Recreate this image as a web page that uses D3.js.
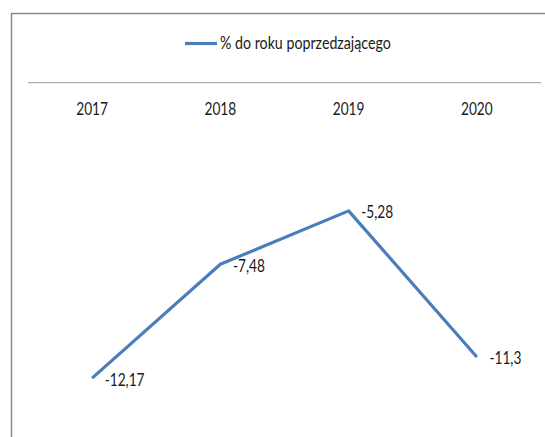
<!DOCTYPE html>
<html>
<head>
<meta charset="utf-8">
<script src="https://cdn.jsdelivr.net/npm/d3@7"></script>
<style>
  body { margin: 0; background: #fff; }
  text { font-family: Lato, "Open Sans", sans-serif; fill: #1a1a1a; }
</style>
</head>
<body>
<div id="chart"></div>
<script>
let years = ["2017", "2018", "2019", "2020"];
let values = [-12.17, -7.48, -5.28, -11.3];
let valueLabels = ["-12,17", "-7,48", "-5,28", "-11,3"];
let seriesName = "% do roku poprzedzającego";

const width = 545;
const height = 437;
const lineColor = "#4a7ebb";
const fontSize = 18;
const squeeze = 0.76; // the original picture is narrower than it is tall

const svg = d3
  .select("#chart")
  .append("svg")
  .attr("width", width)
  .attr("height", height);

// chart frame, cut off on the right and bottom like the original
svg
  .append("rect")
  .attr("x", 11.5)
  .attr("y", 13.5)
  .attr("width", 600)
  .attr("height", 500)
  .attr("fill", "#fff")
  .attr("stroke", "#888")
  .attr("stroke-width", 1.5);

const x = d3.scaleBand().domain(years).range([28, 541]);
const y = d3.scaleLinear().domain([-14, 0]).range([422.5, 82.7]);

function place(px, py, sx = squeeze) {
  return `translate(${px},${py}) scale(${sx},1)`;
}

// category axis sits at zero, labels under it
svg
  .append("line")
  .attr("x1", x.range()[0])
  .attr("x2", x.range()[1])
  .attr("y1", y(0))
  .attr("y2", y(0))
  .attr("stroke", "#999")
  .attr("stroke-width", 1);

svg
  .selectAll(".year")
  .data(years)
  .join("text")
  .attr("class", "year")
  .attr("transform", (d) => place(x(d) + x.bandwidth() / 2, y(0) + 32.3))
  .attr("text-anchor", "middle")
  .attr("font-size", fontSize)
  .text((d) => d);

const cx = (d, i) => x(years[i]) + x.bandwidth() / 2;

const line = d3
  .line()
  .x((d, i) => cx(d, i))
  .y((d) => y(d));

svg
  .append("path")
  .datum(values)
  .attr("d", line)
  .attr("fill", "none")
  .attr("stroke", lineColor)
  .attr("stroke-width", 3.2)
  .attr("stroke-linejoin", "round");

svg
  .selectAll(".lbl")
  .data(values)
  .join("text")
  .attr("class", "lbl")
  .attr("transform", (d, i) => place(cx(d, i) + 12.5, y(d) + 7.5))
  .attr("font-size", fontSize)
  .text((d, i) => valueLabels[i]);

// legend
const legend = svg.append("g").attr("transform", "translate(185,43.5)");
legend
  .append("line")
  .attr("x1", 0)
  .attr("x2", 32)
  .attr("stroke", lineColor)
  .attr("stroke-width", 3.2);
legend
  .append("text")
  .attr("transform", place(35, 5.8, 0.79))
  .attr("font-size", fontSize)
  .text(seriesName);
</script>
</body>
</html>
